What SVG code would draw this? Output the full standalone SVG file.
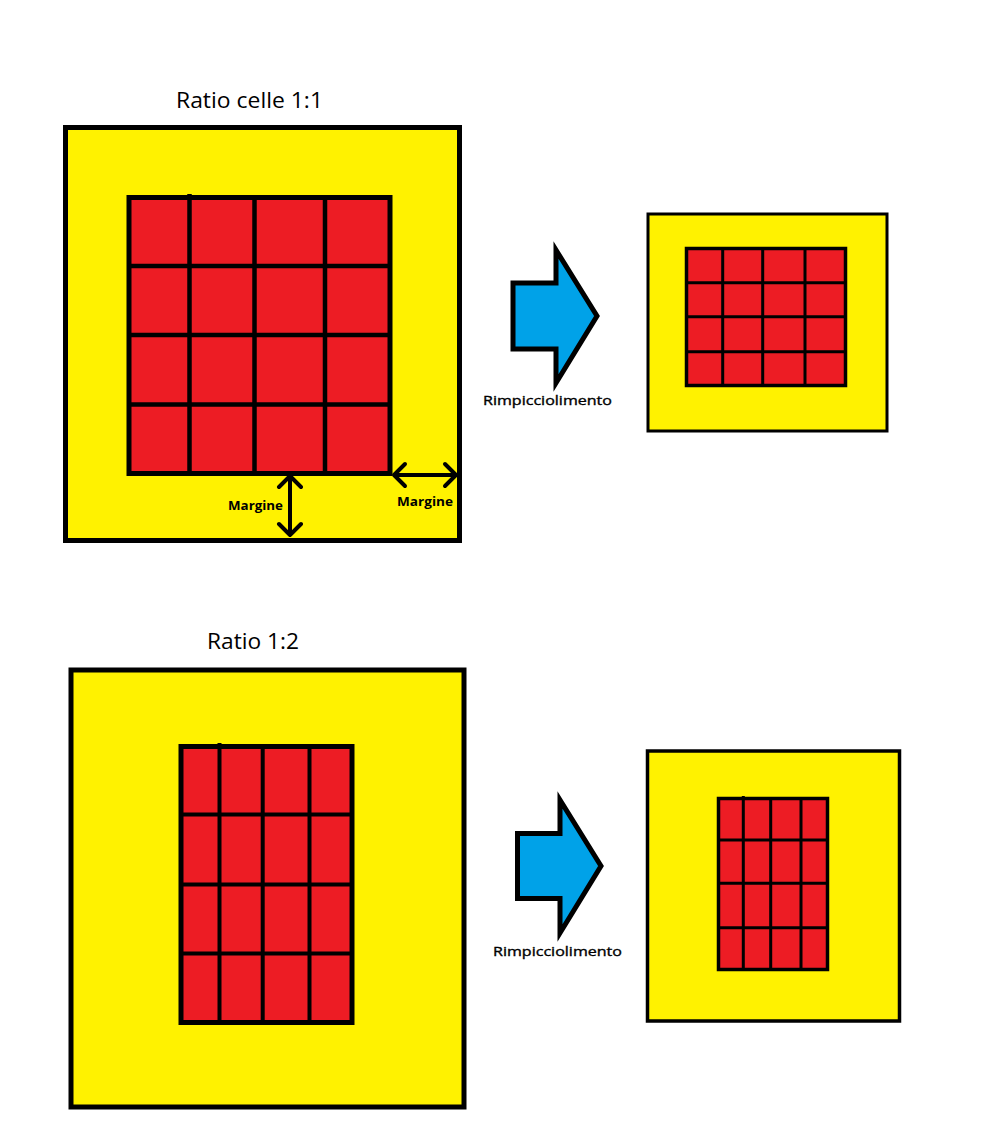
<svg xmlns="http://www.w3.org/2000/svg" width="988" height="1145" viewBox="0 0 988 1145">
<style>
.bg{fill:#ffffff}
.frame{fill:#FFF200;stroke:#000;}
.grid{fill:#ED1C24;stroke:#000;}
.gl{stroke:#000;fill:none}
.blue{fill:#00A2E8;stroke:#000;stroke-width:5;stroke-linejoin:miter}
.title{font-family:"Open Sans","Liberation Sans",sans-serif;font-size:21px;fill:#000}
.lbl{font-family:"Open Sans","Liberation Sans",sans-serif;font-size:12.5px;font-weight:bold;fill:#000}
.lbl2{font-family:"Open Sans","Liberation Sans",sans-serif;font-size:13px;font-weight:normal;fill:#000;stroke:#000;stroke-width:0.35}
.arr{stroke:#000;stroke-width:4;fill:none;stroke-linecap:round;stroke-linejoin:round}
</style>
<rect class="bg" x="0" y="0" width="988" height="1145"/>

<g id="title-top"><text class="title" x="176" y="108" textLength="147" lengthAdjust="spacingAndGlyphs">Ratio celle 1:1</text></g>

<g id="big-frame-top">
<rect class="frame" x="65.5" y="127.5" width="394" height="413" stroke-width="5"/>
</g>
<g id="big-grid-top">
<rect class="grid" x="129" y="197.5" width="261" height="276" stroke-width="5"/>
<path class="gl" stroke-width="4.5" d="M189.5 194 V474 M254.5 197 V474 M325 197 V474 M129 266 H390 M129 335 H390 M129 404.5 H390"/>
</g>

<g id="margin-arrows">
<path class="arr" d="M290 476 V535 M279 487 L290 476 L301 487 M279 524 L290 535 L301 524"/>
<path class="arr" d="M394 475 H456 M405 464 L394 475 L405 486 M445 464 L456 475 L445 486"/>
<text class="lbl" x="228" y="510" textLength="55" lengthAdjust="spacingAndGlyphs">Margine</text>
<text class="lbl" x="397" y="506" textLength="56" lengthAdjust="spacingAndGlyphs">Margine</text>
</g>

<g id="shrink-arrow-top">
<polygon class="blue" points="513,283 556,283 556,250 597,316 556,383 556,349 513,349"/>
<text class="lbl2" x="483" y="405" textLength="129" lengthAdjust="spacingAndGlyphs">Rimpicciolimento</text>
</g>

<g id="small-frame-top">
<rect class="frame" x="648" y="214" width="239" height="217" stroke-width="3"/>
</g>
<g id="small-grid-top">
<rect class="grid" x="686.5" y="248.5" width="159" height="137" stroke-width="3.5"/>
<path class="gl" stroke-width="3" d="M722.7 248 V386 M762.7 248 V386 M805 248 V386 M686 282.7 H846 M686 316.7 H846 M686 351.7 H846"/>
</g>

<g id="title-bottom"><text class="title" x="207" y="649" textLength="92" lengthAdjust="spacingAndGlyphs">Ratio 1:2</text></g>

<g id="big-frame-bottom">
<rect class="frame" x="71" y="670" width="393" height="437" stroke-width="5"/>
</g>
<g id="big-grid-bottom">
<rect class="grid" x="181" y="746.5" width="171" height="276" stroke-width="5"/>
<path class="gl" stroke-width="4" d="M219.5 743 V1022 M262.7 746 V1022 M309.5 746 V1022 M181 814.5 H352 M181 884.5 H352 M181 953.5 H352"/>
</g>

<g id="shrink-arrow-bottom">
<polygon class="blue" points="517.5,833.5 560,833.5 560,800 601,866 560,933 560,898.5 517.5,898.5"/>
<text class="lbl2" x="493" y="956" textLength="129" lengthAdjust="spacingAndGlyphs">Rimpicciolimento</text>
</g>

<g id="small-frame-bottom">
<rect class="frame" x="647.5" y="751" width="252" height="270" stroke-width="3.5"/>
</g>
<g id="small-grid-bottom">
<rect class="grid" x="718.5" y="798.5" width="109" height="171" stroke-width="3.5"/>
<path class="gl" stroke-width="3" d="M743.3 796 V970 M770.7 798 V970 M801 798 V970 M718 840 H828 M718 883.3 H828 M718 927.7 H828"/>
</g>
</svg>
